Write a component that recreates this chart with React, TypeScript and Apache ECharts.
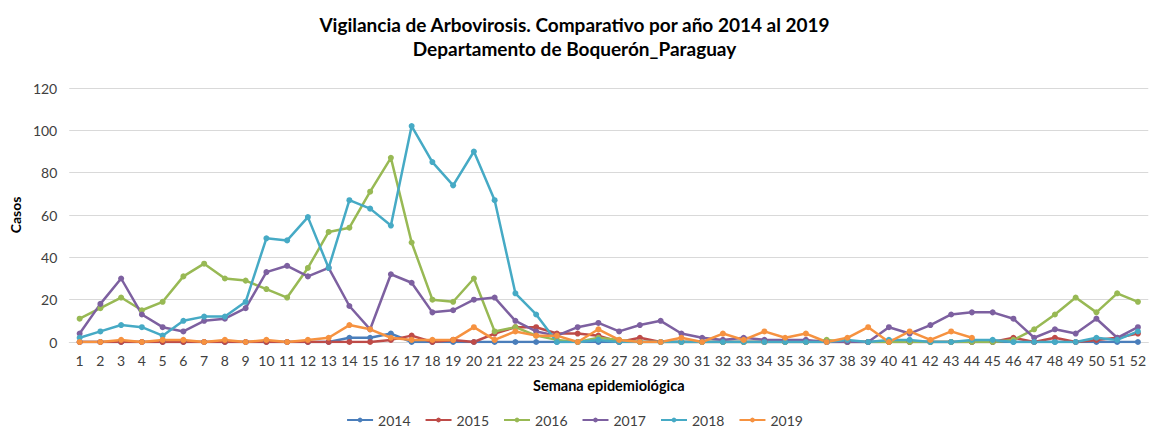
import React, { useEffect, useRef } from "react";
import * as echarts from "echarts";

const weeks = Array.from({ length: 52 }, (_, i) => String(i + 1));
const yTicks = [0, 20, 40, 60, 80, 100, 120];

const s2014 = [0,0,0,0,0,0,0,0,0,0,0,0,0,2,2,4,0,0,0,0,0,0,0,0,0,0,0,0,0,0,0,0,0,0,0,0,0,0,0,0,0,0,0,0,0,0,0,0,0,0,0,0];
const s2015 = [0,0,0,0,0,0,0,0,0,0,0,0,0,0,0,1,3,0,1,0,4,7,7,4,4,3,0,2,0,0,0,0,0,0,0,0,0,0,0,0,0,0,0,0,0,2,0,2,0,1,2,4];
const s2016 = [11,16,21,15,19,31,37,30,29,25,21,35,52,54,71,87,47,20,19,30,5,7,3,1,0,2,1,0,0,0,0,0,0,0,0,0,1,0,0,0,0,0,0,0,0,1,6,13,21,14,23,19];
const s2017 = [4,18,30,13,7,5,10,11,16,33,36,31,35,17,6,32,28,14,15,20,21,10,5,3,7,9,5,8,10,4,2,1,2,1,1,1,0,0,0,7,4,8,13,14,14,11,2,6,4,11,2,7];
const s2018 = [2,5,8,7,3,10,12,12,19,49,48,59,35,67,63,55,102,85,74,90,67,23,13,0,0,1,0,0,0,0,0,0,0,0,0,0,0,1,0,1,1,0,0,1,1,0,0,0,0,2,1,5];
const s2019 = [0,0,1,0,1,1,0,1,0,1,0,1,2,8,6,2,1,1,1,7,1,5,3,3,0,6,1,0,0,2,0,4,1,5,2,4,0,2,7,0,5,1,5,2];

const seriesDefs = [
  { name: "2014", data: s2014, color: "#4A7EBB" },
  { name: "2015", data: s2015, color: "#BE4B48" },
  { name: "2016", data: s2016, color: "#98B954" },
  { name: "2017", data: s2017, color: "#7D60A0" },
  { name: "2018", data: s2018, color: "#46AAC5" },
  { name: "2019", data: s2019, color: "#F69240" },
];

const FONT = "Lato";

export default function App() {
  const ref = useRef<HTMLDivElement>(null);
  useEffect(() => {
    document.body.style.margin = "0";
    const chart = echarts.init(ref.current!, null, { renderer: "svg" });
    chart.setOption({
      animation: false,
      textStyle: { fontFamily: FONT },
      title: {
        text: "Vigilancia de Arbovirosis. Comparativo por año 2014 al 2019\nDepartamento de Boquerón_Paraguay",
        left: "center",
        top: 7,
        textStyle: { fontFamily: FONT, fontSize: 19, fontWeight: "bold", color: "#000", lineHeight: 24 },
      },
      legend: {
        bottom: 2,
        left: "center",
        itemWidth: 26,
        itemHeight: 6,
        itemGap: 14,
        textStyle: { fontFamily: FONT, fontSize: 14, color: "#404040" },
        data: seriesDefs.map((s) => s.name),
      },
      grid: { left: 66, right: 0, top: 88, bottom: 92 },
      xAxis: {
        type: "category",
        data: weeks,
        boundaryGap: true,
        name: "Semana epidemiológica",
        nameLocation: "middle",
        nameGap: 36,
        nameTextStyle: { fontFamily: FONT, fontSize: 14.5, fontWeight: "bold", color: "#000" },
        axisLine: { lineStyle: { color: "#d9d9d9", width: 1 } },
        axisTick: { show: false },
        axisLabel: { interval: 0, fontFamily: FONT, fontSize: 14, color: "#404040", margin: 11 },
      },
      yAxis: {
        type: "value",
        min: 0,
        max: 120,
        interval: 20,
        name: "Casos",
        nameLocation: "middle",
        nameGap: 46,
        nameRotate: 90,
        nameTextStyle: { fontFamily: FONT, fontSize: 14, fontWeight: "bold", color: "#000" },
        axisLine: { show: false },
        axisTick: { show: false },
        splitLine: { lineStyle: { color: "#d9d9d9", width: 1 } },
        axisLabel: {
          fontFamily: FONT,
          fontSize: 14,
          color: "#404040",
          margin: 12,
          formatter: (v: number) => (yTicks.includes(v) ? String(v) : ""),
        },
      },
      series: seriesDefs.map((s) => ({
        name: s.name,
        type: "line",
        data: s.data,
        color: s.color,
        symbol: "circle",
        symbolSize: 6,
        showSymbol: true,
        lineStyle: { width: 2.5, color: s.color },
        itemStyle: { color: s.color },
      })),
    });
    return () => chart.dispose();
  }, []);
  return <div ref={ref} style={{ width: 1149, height: 434 }} />;
}
